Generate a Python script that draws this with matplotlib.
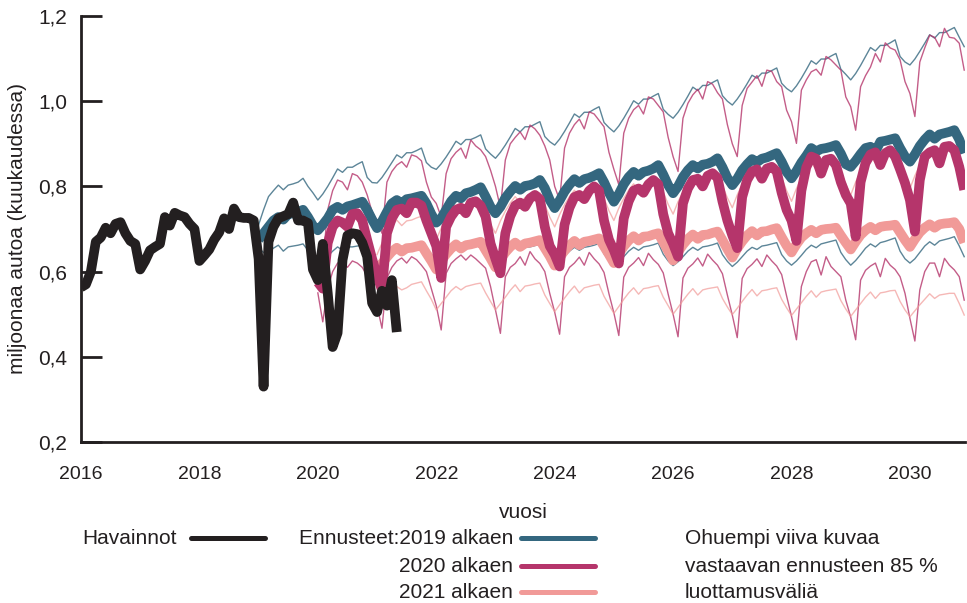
import numpy as np
import matplotlib
matplotlib.use("Agg")
import matplotlib.pyplot as plt
from matplotlib.lines import Line2D

plt.rcParams['font.family'] = ['Liberation Sans', 'DejaVu Sans']

# havainnot, kuukausittain 1/2016 - 5/2021
obs_start = 2016
observed = [
    .563, .57, .60, .67, .68, .703, .69, .712, .716, .69, .672, .665,
    .605, .625, .65, .658, .665, .728, .708, .738, .732, .728, .712, .70,
    .625, .638, .652, .675, .692, .725, .70, .748, .728, .726, .726, .72,
    .63, .33, .67, .705, .725, .73, .735, .762, .72, .72, .714, .605,
    .58, .665, .55, .423, .456, .627, .685, .69, .688, .668, .635, .526,
    .505, .555, .52, .58, .458,
]

# ennuste 2019 alkaen (1/2019 - 12/2030)
f2019_start = 2019
f2019 = [
    .675, .69, .705, .72, .728, .722, .735, .737, .74, .745, .728, .708,
    .697, .71, .725, .745, .752, .745, .753, .756, .76, .764, .745, .722,
    .702, .718, .74, .76, .768, .76, .77, .772, .775, .778, .76, .735,
    .715, .725, .745, .765, .778, .772, .784, .787, .792, .798, .776, .752,
    .737, .752, .773, .788, .801, .792, .801, .803, .807, .815, .796, .768,
    .749, .767, .788, .804, .817, .808, .817, .82, .825, .831, .81, .785,
    .764, .782, .805, .822, .834, .825, .834, .837, .842, .85, .828, .803,
    .784, .80, .822, .838, .85, .842, .851, .853, .858, .866, .845, .82,
    .803, .818, .838, .852, .864, .857, .865, .868, .873, .878, .858, .834,
    .819, .836, .856, .872, .89, .882, .888, .89, .893, .897, .877, .852,
    .846, .86, .876, .89, .893, .882, .905, .907, .91, .913, .89, .87,
    .858, .875, .895, .91, .922, .912, .922, .925, .928, .932, .91, .878,
]
f2019_hi = [
    .71, .745, .776, .79, .803, .792, .803, .806, .81, .819, .80, .785,
    .768, .782, .80, .82, .841, .833, .845, .845, .852, .858, .821, .809,
    .808, .821, .838, .856, .874, .867, .879, .879, .884, .89, .856, .845,
    .84, .853, .869, .887, .906, .898, .91, .91, .915, .921, .888, .876,
    .866, .88, .897, .916, .936, .928, .94, .94, .946, .952, .917, .905,
    .897, .911, .929, .949, .97, .962, .974, .974, .981, .987, .95, .938,
    .928, .942, .96, .98, 1.001, .993, 1.005, 1.005, 1.012, 1.018, .981, .969,
    .96, .974, .992, 1.012, 1.033, 1.025, 1.037, 1.037, 1.044, 1.05, 1.013, 1.0,
    .991, 1.005, 1.022, 1.041, 1.061, 1.054, 1.066, 1.066, 1.072, 1.078, 1.042, 1.03,
    1.022, 1.036, 1.054, 1.074, 1.095, 1.087, 1.099, 1.099, 1.106, 1.112, 1.075, 1.063,
    1.05, 1.065, 1.084, 1.105, 1.126, 1.118, 1.131, 1.131, 1.137, 1.144, 1.105, 1.092,
    1.085, 1.099, 1.117, 1.136, 1.156, 1.148, 1.161, 1.161, 1.167, 1.173, 1.15, 1.128,
]
f2019_lo = [
    .655, .645, .645, .655, .662, .648, .658, .66, .662, .665, .65, .64,
    .625, .63, .636, .648, .658, .65, .658, .658, .66, .662, .645, .632,
    .622, .628, .636, .648, .657, .65, .657, .658, .66, .663, .643, .63,
    .62, .627, .636, .648, .657, .65, .657, .658, .66, .664, .643, .628,
    .618, .626, .636, .648, .657, .65, .657, .658, .661, .665, .642, .627,
    .617, .625, .636, .648, .657, .65, .657, .659, .662, .666, .642, .626,
    .615, .624, .635, .648, .657, .65, .658, .66, .663, .667, .641, .625,
    .614, .623, .635, .648, .657, .65, .658, .66, .663, .667, .64, .624,
    .612, .622, .635, .648, .657, .652, .66, .662, .665, .668, .64, .625,
    .615, .625, .638, .652, .662, .656, .665, .668, .671, .674, .645, .628,
    .615, .626, .64, .655, .665, .658, .668, .671, .675, .679, .648, .63,
    .62, .63, .645, .66, .67, .662, .672, .675, .678, .682, .66, .635,
]

# ennuste 2020 alkaen (1/2020 - 12/2030)
f2020_start = 2020
f2020 = [
    .575, .56, .667, .705, .72, .715, .705, .735, .737, .72, .674, .63,
    .59, .557, .69, .725, .745, .748, .737, .762, .762, .755, .72, .69,
    .66, .585, .705, .729, .745, .75, .737, .762, .765, .755, .729, .666,
    .63, .596, .69, .73, .755, .762, .752, .772, .78, .77, .705, .66,
    .64, .612, .71, .75, .775, .78, .77, .79, .80, .79, .72, .675,
    .65, .619, .725, .765, .79, .795, .785, .805, .815, .805, .735, .69,
    .665, .635, .76, .795, .815, .818, .80, .825, .831, .82, .765, .72,
    .685, .655, .775, .815, .835, .84, .818, .842, .846, .835, .785, .745,
    .72, .672, .79, .845, .87, .865, .83, .862, .865, .85, .81, .78,
    .76, .682, .81, .855, .875, .88, .85, .878, .885, .87, .84, .808,
    .768, .694, .815, .87, .88, .885, .854, .893, .895, .885, .846, .792,
]
f2020_hi = [
    .60, .62, .745, .79, .815, .81, .792, .83, .825, .81, .78, .74,
    .72, .69, .81, .835, .85, .858, .845, .874, .87, .86, .81, .775,
    .76, .728, .83, .865, .88, .89, .866, .909, .895, .886, .87, .838,
    .80, .75, .862, .90, .915, .928, .91, .944, .935, .92, .895, .862,
    .80, .768, .89, .925, .945, .958, .935, .975, .97, .955, .94, .88,
    .84, .804, .925, .96, .98, .99, .97, 1.01, 1.005, .99, .975, .915,
    .87, .835, .96, .995, 1.015, 1.028, 1.005, 1.046, 1.04, 1.02, 1.005, .945,
    .90, .87, .99, 1.03, 1.045, 1.06, 1.035, 1.073, 1.07, 1.046, 1.034, .979,
    .952, .901, 1.026, 1.05, 1.069, 1.075, 1.061, 1.105, 1.097, 1.085, 1.073, 1.01,
    .987, .932, 1.034, 1.06, 1.08, 1.112, 1.092, 1.137, 1.125, 1.12, 1.097, 1.046,
    1.018, .964, 1.092, 1.125, 1.155, 1.15, 1.128, 1.171, 1.15, 1.148, 1.136, 1.073,
]
f2020_lo = [
    .55, .482, .56, .60, .62, .625, .61, .625, .62, .61, .59, .55,
    .52, .467, .585, .61, .625, .632, .62, .635, .628, .615, .60, .56,
    .52, .463, .596, .619, .63, .639, .627, .639, .63, .619, .608, .565,
    .51, .455, .588, .61, .619, .635, .615, .647, .63, .619, .60, .549,
    .505, .453, .588, .61, .62, .634, .615, .645, .63, .618, .598, .548,
    .503, .45, .587, .61, .62, .633, .614, .643, .628, .617, .597, .547,
    .50, .447, .585, .608, .618, .632, .613, .641, .627, .615, .595, .545,
    .498, .445, .584, .607, .617, .63, .612, .639, .625, .613, .593, .543,
    .495, .44, .565, .60, .623, .628, .592, .635, .612, .60, .588, .533,
    .493, .44, .58, .603, .613, .62, .588, .631, .615, .605, .588, .549,
    .49, .437, .557, .60, .62, .62, .588, .631, .615, .604, .588, .533,
]

# ennuste 2021 alkaen (1/2021 - 12/2030)
f2021_start = 2021
f2021 = [
    .60, .619, .634, .647, .656, .647, .655, .656, .659, .662, .643, .625,
    .605, .625, .641, .654, .664, .654, .662, .664, .667, .67, .65, .631,
    .61, .629, .645, .658, .668, .658, .666, .668, .671, .674, .655, .636,
    .614, .633, .649, .662, .672, .662, .67, .672, .675, .678, .659, .64,
    .62, .641, .659, .673, .683, .673, .682, .683, .687, .69, .669, .648,
    .626, .646, .663, .677, .687, .677, .686, .687, .691, .694, .674, .653,
    .633, .654, .671, .685, .695, .685, .694, .695, .699, .702, .681, .661,
    .645, .664, .68, .69, .698, .69, .698, .70, .701, .703, .685, .668,
    .652, .67, .686, .697, .705, .697, .705, .707, .708, .71, .692, .674,
    .658, .676, .692, .703, .711, .703, .711, .713, .714, .716, .70, .668,
]
f2021_hi = [
    .64, .667, .69, .708, .721, .708, .719, .721, .726, .73, .703, .676,
    .675, .702, .725, .743, .756, .743, .754, .756, .761, .765, .738, .711,
    .69, .719, .742, .761, .776, .761, .774, .776, .78, .785, .757, .728,
    .705, .734, .757, .776, .791, .776, .789, .791, .795, .80, .772, .743,
    .72, .749, .772, .791, .806, .791, .804, .806, .81, .815, .787, .758,
    .735, .764, .787, .806, .821, .806, .819, .821, .825, .83, .802, .773,
    .75, .78, .805, .825, .84, .825, .838, .84, .845, .85, .82, .79,
    .765, .795, .82, .84, .855, .84, .853, .855, .86, .865, .835, .805,
    .78, .81, .835, .855, .87, .855, .868, .87, .875, .88, .85, .82,
    .795, .825, .85, .87, .885, .87, .883, .885, .89, .895, .865, .83,
]
f2021_lo = [
    .585, .575, .565, .56, .565, .557, .562, .57, .573, .576, .555, .535,
    .51, .525, .54, .555, .565, .557, .565, .568, .571, .573, .55, .53,
    .51, .525, .54, .556, .569, .553, .566, .568, .571, .573, .545, .525,
    .506, .522, .538, .553, .566, .55, .562, .565, .568, .57, .542, .522,
    .502, .518, .535, .55, .562, .547, .56, .562, .565, .567, .54, .52,
    .50, .516, .532, .547, .56, .545, .557, .56, .562, .564, .537, .517,
    .499, .514, .53, .545, .558, .543, .555, .557, .56, .562, .535, .515,
    .497, .512, .527, .542, .555, .54, .552, .555, .557, .559, .532, .512,
    .495, .51, .525, .54, .552, .537, .55, .552, .555, .556, .53, .51,
    .494, .508, .522, .535, .548, .537, .545, .547, .549, .549, .525, .498,
]

yticks = [0.2, 0.4, 0.6, 0.8, 1.0, 1.2]
xticks = [2016, 2018, 2020, 2022, 2024, 2026, 2028, 2030]

c_obs = '#231f20'
c_19 = '#34677f'
c_20 = '#b5356b'
c_21 = '#f19a98'


def months(start, n):
    return start + np.arange(n) / 12.0


W, H = 967, 603
fig = plt.figure(figsize=(W / 100, H / 100), dpi=100)
ax = fig.add_axes([81 / W, 1 - 442 / H, (965 - 81) / W, (442 - 16) / H])

thin = 1.0
ax.plot(months(f2019_start, len(f2019_hi)), f2019_hi, color=c_19, lw=thin, alpha=0.8, zorder=1)
ax.plot(months(f2019_start, len(f2019_lo)), f2019_lo, color=c_19, lw=thin, alpha=0.8, zorder=1)
ax.plot(months(f2020_start, len(f2020_hi)), f2020_hi, color=c_20, lw=thin, alpha=0.8, zorder=1)
ax.plot(months(f2020_start, len(f2020_lo)), f2020_lo, color=c_20, lw=thin, alpha=0.8, zorder=1)
ax.plot(months(f2021_start, len(f2021_hi)), f2021_hi, color=c_21, lw=thin, alpha=0.7, zorder=1)
ax.plot(months(f2021_start, len(f2021_lo)), f2021_lo, color=c_21, lw=thin, alpha=0.7, zorder=1)

thick = 7.0
kw = dict(lw=thick, solid_joinstyle='round', solid_capstyle='butt')
ax.plot(months(f2019_start, len(f2019)), f2019, color=c_19, zorder=2, **kw)
ax.plot(months(f2021_start, len(f2021)), f2021, color=c_21, zorder=2, **kw)
ax.plot(months(f2020_start, len(f2020)), f2020, color=c_20, zorder=3, **kw)
ax.plot(months(obs_start, len(observed)), observed, color=c_obs, zorder=4, **kw)

ax.set_xlim(2016, 2030.93)
ax.set_ylim(0.2, 1.2)
ax.set_yticks(yticks)
ax.set_yticklabels([f"{v:.1f}".replace('.', ',') for v in yticks])
ax.set_xticks(xticks)
ax.set_xticklabels([str(x) for x in xticks])

for s in ['top', 'right']:
    ax.spines[s].set_visible(False)
for s in ['left', 'bottom']:
    ax.spines[s].set_linewidth(2)
    ax.spines[s].set_color(c_obs)
ax.tick_params(axis='y', direction='in', length=15, width=2, color=c_obs, pad=10,
               labelsize=15, labelcolor=c_obs)
ax.tick_params(axis='x', length=0, pad=17, labelsize=14, labelcolor=c_obs)


def fx(px):
    return px / W


def fy(py):
    return 1 - py / H


fig.text(fx(18), fy(229), 'miljoonaa autoa (kuukaudessa)', rotation=90,
         ha='center', va='center', fontsize=15, color=c_obs)
fig.text(fx(523), fy(512), 'vuosi', ha='center', va='center', fontsize=15, color=c_obs)

# selite
leg_lw = 3.6
fig.text(fx(177), fy(538), 'Havainnot', ha='right', va='center', fontsize=15, color=c_obs)
fig.add_artist(Line2D([fx(191), fx(265)], [fy(538), fy(538)], color=c_obs, lw=leg_lw,
                      solid_capstyle='round'))
rows = [('Ennusteet:2019 alkaen', c_19, 538), ('2020 alkaen', c_20, 566), ('2021 alkaen', c_21, 592)]
for label, col, py in rows:
    fig.text(fx(513), fy(py), label, ha='right', va='center', fontsize=15, color=c_obs)
    fig.add_artist(Line2D([fx(521), fx(595)], [fy(py), fy(py)], color=col, lw=leg_lw,
                          solid_capstyle='round'))
for txt, py in [('Ohuempi viiva kuvaa', 538), ('vastaavan ennusteen 85 %', 566),
                ('luottamusväliä', 592)]:
    fig.text(fx(685), fy(py), txt, ha='left', va='center', fontsize=15, color=c_obs)

fig.savefig('out.png', dpi=100)
